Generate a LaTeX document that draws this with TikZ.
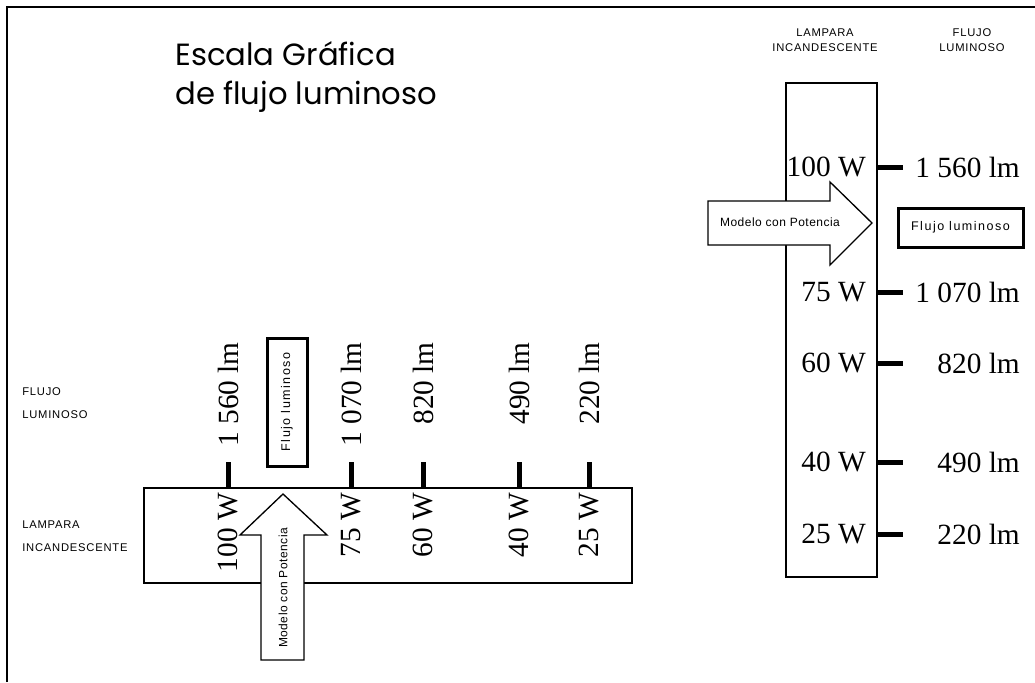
\documentclass[tikz,border=0pt]{standalone}
\usepackage{fontspec}
\setmainfont{Liberation Serif}
\newfontfamily\titlefont{Poppins}
\newfontfamily\headfont[LetterSpace=7]{Liberation Sans}
\newfontfamily\boxfont[LetterSpace=12]{Liberation Sans}
\newfontfamily\arrowfont[LetterSpace=4]{Liberation Sans}
\usepackage{tikz}
\usetikzlibrary{calc,positioning,shapes}

\begin{document}
\begin{tikzpicture}[x=0.75pt, y=0.75pt,
    value/.style={inner sep=0pt, font=\fontsize{22}{26}\selectfont},
    tick/.style={line width=3.75pt},
    head/.style={inner sep=0pt, align=center, font=\headfont\fontsize{8.4}{11.25}\selectfont},
    sidehead/.style={inner sep=0pt, align=left, anchor=west, font=\headfont\fontsize{8.4}{17.25}\selectfont},
    tag/.style={draw, line width=2.25pt, inner sep=0pt, font=\boxfont\fontsize{9.4}{11}\selectfont},
    pointer/.style={draw, line width=1pt, fill=white},
    scale bar/.style={draw, line width=0.9pt}]
    \useasboundingbox (0,0) rectangle (1035,-682);
    \draw [line width=1.5pt] (7,-682) -- (7,-7) -- (1035,-7);

    \node [anchor=north west, align=left, inner sep=0pt, font=\titlefont\fontsize{23}{29.5}\selectfont] (title) at (175,-41) {Escala Gráfica\\de flujo luminoso};

    % horizontal scale
    \node [sidehead] (hlum) at (22,-403) {FLUJO\\LUMINOSO};
    \node [sidehead] (hlamp) at (22,-536) {LAMPARA\\INCANDESCENTE};
    \node [scale bar, minimum width=366pt, minimum height=71.25pt] (hbox) at (388,-535.5) {};

    \node [value, rotate=90, anchor=east] (h100) at (228,-493) {100 W};
    \node [value, rotate=90, anchor=east] (h75) at (351,-493) {75 W};
    \node [value, rotate=90, anchor=east] (h60) at (423,-493) {60 W};
    \node [value, rotate=90, anchor=east] (h40) at (519,-493) {40 W};
    \node [value, rotate=90, anchor=east] (h25) at (589,-493) {25 W};

    \draw [tick] (hbox.north -| h100.east) -- ++(0,25);
    \draw [tick] (hbox.north -| h75.east) -- ++(0,25);
    \draw [tick] (hbox.north -| h60.east) -- ++(0,25);
    \draw [tick] (hbox.north -| h40.east) -- ++(0,25);
    \draw [tick] (hbox.north -| h25.east) -- ++(0,25);

    \node [value, rotate=90, anchor=east] (hl1560) at (228,-342) {1 560 lm};
    \node [value, rotate=90, anchor=east] (hl1070) at (351,-342) {1 070 lm};
    \node [value, rotate=90, anchor=east] (hl820) at (423,-342) {820 lm};
    \node [value, rotate=90, anchor=east] (hl490) at (519,-342) {490 lm};
    \node [value, rotate=90, anchor=east] (hl220) at (589,-342) {220 lm};

    \node [tag, rotate=90, minimum width=96pt, minimum height=30pt] (hflux) at (287,-402) {Flujo luminoso};
    \draw [pointer] (261,-660) -- (261,-535) -- (240,-535) -- (283,-494) -- (327,-535) -- (304,-535) -- (304,-660) -- cycle;
    \node [rotate=90, inner sep=0pt, font=\arrowfont\fontsize{9}{11}\selectfont] (hmodel) at (283,-588) {Modelo con Potencia};

    % vertical scale
    \node [head] (vlamp) at (825,-40) {LAMPARA\\INCANDESCENTE};
    \node [head] (vlum) at (972,-40) {FLUJO\\LUMINOSO};
    \node [scale bar, minimum width=68.25pt, minimum height=370.5pt] (vbox) at (831.5,-330) {};

    \node [value, anchor=east] (v100) at (866,-167) {100 W};
    \node [value, anchor=east] (v75) at (866,-292) {75 W};
    \node [value, anchor=east] (v60) at (866,-363) {60 W};
    \node [value, anchor=east] (v40) at (866,-462) {40 W};
    \node [value, anchor=east] (v25) at (866,-534) {25 W};

    \draw [tick] (vbox.east |- v100) -- ++(25,0);
    \draw [tick] (vbox.east |- v75) -- ++(25,0);
    \draw [tick] (vbox.east |- v60) -- ++(25,0);
    \draw [tick] (vbox.east |- v40) -- ++(25,0);
    \draw [tick] (vbox.east |- v25) -- ++(25,0);

    \node [value, anchor=east] (vl1560) at (1020,-167) {1 560 lm};
    \node [value, anchor=east] (vl1070) at (1020,-292) {1 070 lm};
    \node [value, anchor=east] (vl820) at (1020,-363) {820 lm};
    \node [value, anchor=east] (vl490) at (1020,-462) {490 lm};
    \node [value, anchor=east] (vl220) at (1020,-534) {220 lm};

    \draw [pointer] (708,-201) -- (830,-201) -- (830,-182) -- (872,-223) -- (830,-265) -- (830,-245) -- (708,-245) -- cycle;
    \node [inner sep=0pt, font=\arrowfont\fontsize{9}{11}\selectfont] (vmodel) at (780,-222) {Modelo con Potencia};
    \node [tag, minimum width=93.75pt, minimum height=29.25pt] (vflux) at (960.5,-227.5) {Flujo luminoso};
\end{tikzpicture}
\end{document}
